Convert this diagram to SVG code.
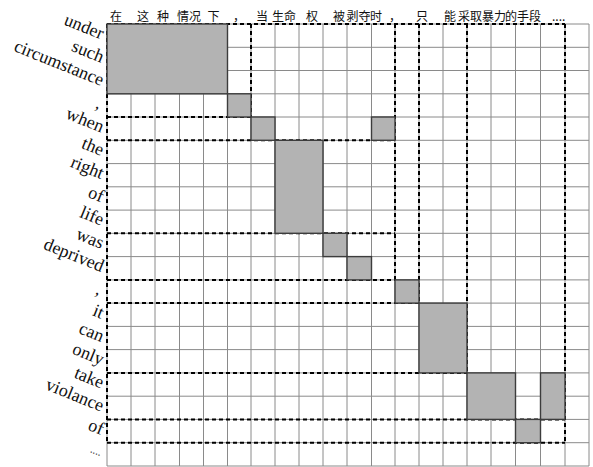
<svg xmlns="http://www.w3.org/2000/svg" width="593" height="467" viewBox="0 0 593 467">
<style>
.grid line{stroke:#8a8a8a;stroke-width:1}
.blk{fill:#b3b3b3;stroke:#3c3c3c;stroke-width:1.4}
.dash{fill:none;stroke:#000;stroke-width:2;stroke-dasharray:4 3}
</style>
<rect width="593" height="467" fill="#fff"/>
<g id="left-labels" font-family="Liberation Serif, serif" font-size="18" fill="#111" text-anchor="end">
<text x="101" y="39.6" transform="rotate(22 101 39.6)">under</text>
<text x="101" y="62.9" transform="rotate(22 101 62.9)">such</text>
<text x="101" y="86.1" transform="rotate(22 101 86.1)">circumstance</text>
<text x="99" y="109.4" transform="rotate(22 99 109.4)">,</text>
<text x="101" y="132.7" transform="rotate(22 101 132.7)">when</text>
<text x="101" y="155.9" transform="rotate(22 101 155.9)">the</text>
<text x="101" y="179.2" transform="rotate(22 101 179.2)">right</text>
<text x="101" y="202.4" transform="rotate(22 101 202.4)">of</text>
<text x="101" y="225.7" transform="rotate(22 101 225.7)">life</text>
<text x="101" y="249" transform="rotate(22 101 249)">was</text>
<text x="101" y="272.2" transform="rotate(22 101 272.2)">deprived</text>
<text x="99" y="295.5" transform="rotate(22 99 295.5)">,</text>
<text x="101" y="318.8" transform="rotate(22 101 318.8)">it</text>
<text x="101" y="342" transform="rotate(22 101 342)">can</text>
<text x="101" y="365.3" transform="rotate(22 101 365.3)">only</text>
<text x="101" y="388.5" transform="rotate(22 101 388.5)">take</text>
<text x="101" y="411.8" transform="rotate(22 101 411.8)">violance</text>
<text x="101" y="435.1" transform="rotate(22 101 435.1)">of</text>
<text x="100" y="456" font-size="11" transform="rotate(22 100 456)">....</text>
</g>
<g id="grid" class="grid">
<line x1="107" y1="24" x2="107" y2="466"/><line x1="131" y1="24" x2="131" y2="466"/><line x1="155" y1="24" x2="155" y2="466"/><line x1="179.5" y1="24" x2="179.5" y2="466"/><line x1="203.5" y1="24" x2="203.5" y2="466"/><line x1="227.5" y1="24" x2="227.5" y2="466"/><line x1="251" y1="24" x2="251" y2="466"/><line x1="275" y1="24" x2="275" y2="466"/><line x1="299" y1="24" x2="299" y2="466"/><line x1="323" y1="24" x2="323" y2="466"/><line x1="347" y1="24" x2="347" y2="466"/><line x1="371.5" y1="24" x2="371.5" y2="466"/><line x1="395" y1="24" x2="395" y2="466"/><line x1="419" y1="24" x2="419" y2="466"/><line x1="443" y1="24" x2="443" y2="466"/><line x1="467" y1="24" x2="467" y2="466"/><line x1="491" y1="24" x2="491" y2="466"/><line x1="515.5" y1="24" x2="515.5" y2="466"/><line x1="540.5" y1="24" x2="540.5" y2="466"/><line x1="565" y1="24" x2="565" y2="466"/><line x1="589" y1="24" x2="589" y2="466"/>
<line x1="107" y1="24" x2="589" y2="24"/><line x1="107" y1="47.3" x2="589" y2="47.3"/><line x1="107" y1="70.5" x2="589" y2="70.5"/><line x1="107" y1="93.8" x2="589" y2="93.8"/><line x1="107" y1="117" x2="589" y2="117"/><line x1="107" y1="140.3" x2="589" y2="140.3"/><line x1="107" y1="163.6" x2="589" y2="163.6"/><line x1="107" y1="186.8" x2="589" y2="186.8"/><line x1="107" y1="210.1" x2="589" y2="210.1"/><line x1="107" y1="233.3" x2="589" y2="233.3"/><line x1="107" y1="256.6" x2="589" y2="256.6"/><line x1="107" y1="279.9" x2="589" y2="279.9"/><line x1="107" y1="303.1" x2="589" y2="303.1"/><line x1="107" y1="326.4" x2="589" y2="326.4"/><line x1="107" y1="349.6" x2="589" y2="349.6"/><line x1="107" y1="372.9" x2="589" y2="372.9"/><line x1="107" y1="396.2" x2="589" y2="396.2"/><line x1="107" y1="419.4" x2="589" y2="419.4"/><line x1="107" y1="442.7" x2="589" y2="442.7"/><line x1="107" y1="466" x2="589" y2="466"/>
</g>
<g id="connectors" class="dash">
<path d="M107,24 H565 M107,24 V442.7"/>
<path d="M251,24 V117 M107,117 H251"/>
<path d="M395,24 V279.9 M107,140.3 H395 M107,233.3 H395 M107,279.9 H395"/>
<path d="M419,24 V303.1 M107,303.1 H419"/>
<path d="M467,24 V372.9 M107,372.9 H467"/>
<path d="M565,24 V442.7 M107,419.4 H565 M107,442.7 H565"/>
</g>
<g id="blocks">
<rect id="b1" class="blk" x="107" y="24" width="120.5" height="69.8"/>
<rect id="b2" class="blk" x="227.5" y="93.8" width="23.5" height="23.2"/>
<rect id="b3" class="blk" x="251" y="117" width="24" height="23.3"/>
<rect id="b4" class="blk" x="371.5" y="117" width="23.5" height="23.3"/>
<rect id="b5" class="blk" x="275" y="140.3" width="48" height="93"/>
<rect id="b6" class="blk" x="323" y="233.3" width="24" height="23.3"/>
<rect id="b7" class="blk" x="347" y="256.6" width="24.5" height="23.3"/>
<rect id="b8" class="blk" x="395" y="279.9" width="24" height="23.2"/>
<rect id="b9" class="blk" x="419" y="303.1" width="48" height="69.8"/>
<rect id="b10" class="blk" x="467" y="372.9" width="48.5" height="46.5"/>
<rect id="b11" class="blk" x="540.5" y="372.9" width="24.5" height="46.5"/>
<rect id="b12" class="blk" x="515.5" y="419.4" width="25" height="23.3"/>
</g>
<g id="top-labels" font-family="Noto Sans CJK SC, Noto Sans, sans-serif" font-size="12" fill="#111">
<text x="110" y="20.5">在</text>
<text x="137" y="20.5">这</text>
<text x="157" y="20.5">种</text>
<text x="177" y="20.5">情况</text>
<text x="207.5" y="20.5">下</text>
<text x="233" y="20.5">，</text>
<text x="256" y="20.5">当</text>
<text x="272" y="20.5">生命</text>
<text x="306" y="20.5">权</text>
<text x="333" y="20.5">被</text>
<text x="346.5" y="20.5">剥夺</text>
<text x="370" y="20.5">时</text>
<text x="389" y="20.5">，</text>
<text x="416" y="20.5">只</text>
<text x="444" y="20.5">能</text>
<text x="458" y="20.5">采取暴力</text>
<text x="505" y="20.5">的手段</text>
<text x="552" y="20.5">....</text>
</g>
</svg>
